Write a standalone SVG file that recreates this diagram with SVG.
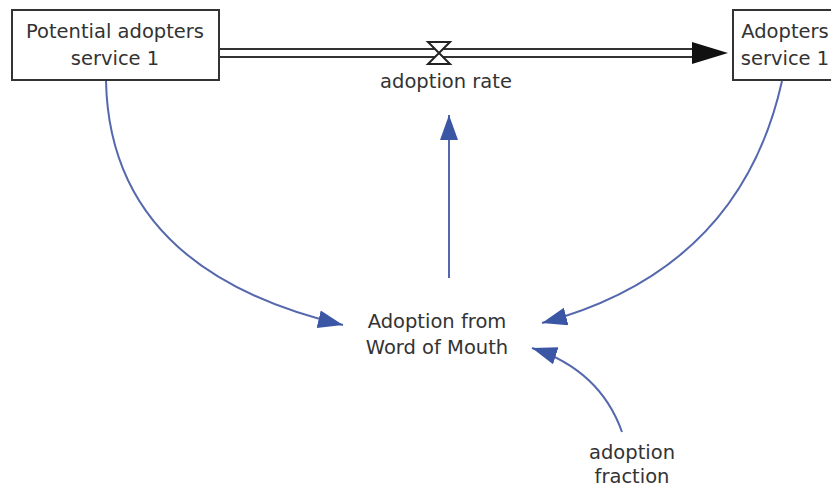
<svg xmlns="http://www.w3.org/2000/svg" width="831" height="488" viewBox="0 0 831 488">
<style>
.lbl{font-family:"DejaVu Sans","Liberation Sans",sans-serif;font-size:19.5px;fill:#333;text-anchor:middle}
.box{fill:#fff;stroke:#333;stroke-width:2}
.link{fill:none;stroke:#5568ad;stroke-width:2}
.pipe{stroke:#333;stroke-width:2}
</style>
<defs>
<marker id="ah" markerUnits="userSpaceOnUse" markerWidth="28" markerHeight="20" refX="25" refY="9" orient="auto">
<path d="M0,0 L25,9 L0,18 Z" fill="#3a56a5"/>
</marker>
</defs>
<g id="flow">
<line class="pipe" x1="219" y1="49" x2="694" y2="49"/>
<line class="pipe" x1="219" y1="57" x2="694" y2="57"/>
<path d="M692,42 L728,53 L692,64 Z" fill="#111"/>
<path d="M428,42 L450,42 L439,53 L450,64 L428,64 L439,53 Z" fill="#fff" stroke="#222" stroke-width="2"/>
</g>
<g id="potential">
<rect class="box" x="12" y="10" width="207" height="70"/>
<text class="lbl" x="115" y="38">Potential adopters</text>
<text class="lbl" x="115" y="65">service 1</text>
</g>
<g id="adopters">
<rect class="box" x="733" y="10" width="110" height="70"/>
<text class="lbl" x="785" y="38">Adopters</text>
<text class="lbl" x="785" y="65">service 1</text>
</g>
<g id="rate">
<text class="lbl" x="446" y="88">adoption rate</text>
</g>
<g id="wom">
<text class="lbl" x="437" y="328">Adoption from</text>
<text class="lbl" x="437" y="354">Word of Mouth</text>
</g>
<g id="fraction">
<text class="lbl" x="632" y="459">adoption</text>
<text class="lbl" x="632" y="483">fraction</text>
</g>
<g id="connectors">
<path class="link" d="M106,81 Q110,270 343,325" marker-end="url(#ah)"/>
<path class="link" d="M782,81 Q740,270 542,323" marker-end="url(#ah)"/>
<path class="link" d="M449,278 L449,115" marker-end="url(#ah)"/>
<path class="link" d="M622,432 Q600,370 532,348" marker-end="url(#ah)"/>
</g>
</svg>
